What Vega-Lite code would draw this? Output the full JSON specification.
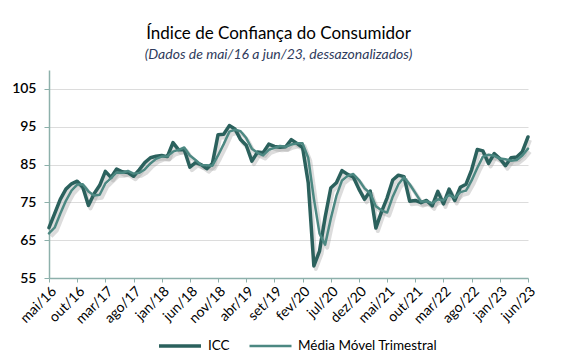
{
  "$schema": "https://vega.github.io/schema/vega-lite/v6.json",
  "width": 479,
  "height": 208,
  "autosize": {"type": "none"},
  "padding": {"left": 49, "top": 70, "right": 59, "bottom": 82},
  "background": "white",
  "config": {"view": {"stroke": null}, "font": "Lato"},
  "title": {
    "text": "Índice de Confiança do Consumidor",
    "subtitle": "(Dados de mai/16 a jun/23, dessazonalizados)",
    "anchor": "middle",
    "dx": -10,
    "offset": 7,
    "font": "Lato",
    "fontSize": 17,
    "fontWeight": "normal",
    "color": "#000000",
    "subtitleFont": "Lato",
    "subtitleFontSize": 14,
    "subtitleFontStyle": "italic",
    "subtitleColor": "#2F3B5C",
    "subtitlePadding": 5
  },
  "data": {
    "values": [
      {"n": 0, "mes": "mai/16", "ICC": 68.3, "Média Móvel Trimestral": 66.8},
      {"n": 1, "mes": "jun/16", "ICC": 72.0, "Média Móvel Trimestral": 68.3},
      {"n": 2, "mes": "jul/16", "ICC": 75.8, "Média Móvel Trimestral": 72.0},
      {"n": 3, "mes": "ago/16", "ICC": 78.5, "Média Móvel Trimestral": 75.4},
      {"n": 4, "mes": "set/16", "ICC": 79.9, "Média Móvel Trimestral": 78.1},
      {"n": 5, "mes": "out/16", "ICC": 80.6, "Média Móvel Trimestral": 79.7},
      {"n": 6, "mes": "nov/16", "ICC": 79.0, "Média Móvel Trimestral": 79.8},
      {"n": 7, "mes": "dez/16", "ICC": 74.2, "Média Móvel Trimestral": 77.9},
      {"n": 8, "mes": "jan/17", "ICC": 77.3, "Média Móvel Trimestral": 76.8},
      {"n": 9, "mes": "fev/17", "ICC": 79.5, "Média Móvel Trimestral": 77.0},
      {"n": 10, "mes": "mar/17", "ICC": 83.2, "Média Móvel Trimestral": 80.0},
      {"n": 11, "mes": "abr/17", "ICC": 81.6, "Média Móvel Trimestral": 81.4},
      {"n": 12, "mes": "mai/17", "ICC": 83.8, "Média Móvel Trimestral": 82.9},
      {"n": 13, "mes": "jun/17", "ICC": 83.1, "Média Móvel Trimestral": 82.8},
      {"n": 14, "mes": "jul/17", "ICC": 82.9, "Média Móvel Trimestral": 83.3},
      {"n": 15, "mes": "ago/17", "ICC": 81.9, "Média Móvel Trimestral": 82.6},
      {"n": 16, "mes": "set/17", "ICC": 83.6, "Média Móvel Trimestral": 82.8},
      {"n": 17, "mes": "out/17", "ICC": 85.5, "Média Móvel Trimestral": 83.7},
      {"n": 18, "mes": "nov/17", "ICC": 86.8, "Média Móvel Trimestral": 85.3},
      {"n": 19, "mes": "dez/17", "ICC": 87.2, "Média Móvel Trimestral": 86.5},
      {"n": 20, "mes": "jan/18", "ICC": 87.4, "Média Móvel Trimestral": 87.1},
      {"n": 21, "mes": "fev/18", "ICC": 87.1, "Média Móvel Trimestral": 87.2},
      {"n": 22, "mes": "mar/18", "ICC": 90.8, "Média Móvel Trimestral": 88.4},
      {"n": 23, "mes": "abr/18", "ICC": 88.9, "Média Móvel Trimestral": 88.9},
      {"n": 24, "mes": "mai/18", "ICC": 88.9, "Média Móvel Trimestral": 89.5},
      {"n": 25, "mes": "jun/18", "ICC": 84.3, "Média Móvel Trimestral": 87.4},
      {"n": 26, "mes": "jul/18", "ICC": 85.5, "Média Móvel Trimestral": 86.2},
      {"n": 27, "mes": "ago/18", "ICC": 85.0, "Média Móvel Trimestral": 84.9},
      {"n": 28, "mes": "set/18", "ICC": 83.9, "Média Móvel Trimestral": 84.8},
      {"n": 29, "mes": "out/18", "ICC": 85.3, "Média Móvel Trimestral": 84.7},
      {"n": 30, "mes": "nov/18", "ICC": 92.9, "Média Móvel Trimestral": 87.4},
      {"n": 31, "mes": "dez/18", "ICC": 93.0, "Média Móvel Trimestral": 90.4},
      {"n": 32, "mes": "jan/19", "ICC": 95.3, "Média Móvel Trimestral": 93.7},
      {"n": 33, "mes": "fev/19", "ICC": 94.4, "Média Móvel Trimestral": 94.2},
      {"n": 34, "mes": "mar/19", "ICC": 91.6, "Média Móvel Trimestral": 93.8},
      {"n": 35, "mes": "abr/19", "ICC": 90.1, "Média Móvel Trimestral": 92.0},
      {"n": 36, "mes": "mai/19", "ICC": 85.9, "Média Móvel Trimestral": 89.2},
      {"n": 37, "mes": "jun/19", "ICC": 88.3, "Média Móvel Trimestral": 88.1},
      {"n": 38, "mes": "jul/19", "ICC": 88.1, "Média Móvel Trimestral": 87.4},
      {"n": 39, "mes": "ago/19", "ICC": 90.4, "Média Móvel Trimestral": 88.9},
      {"n": 40, "mes": "set/19", "ICC": 89.8, "Média Móvel Trimestral": 89.4},
      {"n": 41, "mes": "out/19", "ICC": 89.6, "Média Móvel Trimestral": 89.9},
      {"n": 42, "mes": "nov/19", "ICC": 89.7, "Média Móvel Trimestral": 89.7},
      {"n": 43, "mes": "dez/19", "ICC": 91.6, "Média Móvel Trimestral": 90.3},
      {"n": 44, "mes": "jan/20", "ICC": 90.6, "Média Móvel Trimestral": 90.6},
      {"n": 45, "mes": "fev/20", "ICC": 89.5, "Média Móvel Trimestral": 90.6},
      {"n": 46, "mes": "mar/20", "ICC": 80.2, "Média Móvel Trimestral": 86.8},
      {"n": 47, "mes": "abr/20", "ICC": 58.2, "Média Móvel Trimestral": 76.0},
      {"n": 48, "mes": "mai/20", "ICC": 62.1, "Média Móvel Trimestral": 66.8},
      {"n": 49, "mes": "jun/20", "ICC": 71.1, "Média Móvel Trimestral": 63.8},
      {"n": 50, "mes": "jul/20", "ICC": 78.8, "Média Móvel Trimestral": 70.7},
      {"n": 51, "mes": "ago/20", "ICC": 80.2, "Média Móvel Trimestral": 76.7},
      {"n": 52, "mes": "set/20", "ICC": 83.4, "Média Móvel Trimestral": 80.8},
      {"n": 53, "mes": "out/20", "ICC": 82.4, "Média Móvel Trimestral": 82.0},
      {"n": 54, "mes": "nov/20", "ICC": 81.7, "Média Móvel Trimestral": 82.5},
      {"n": 55, "mes": "dez/20", "ICC": 78.5, "Média Móvel Trimestral": 80.9},
      {"n": 56, "mes": "jan/21", "ICC": 75.8, "Média Móvel Trimestral": 78.7},
      {"n": 57, "mes": "fev/21", "ICC": 78.0, "Média Móvel Trimestral": 77.4},
      {"n": 58, "mes": "mar/21", "ICC": 68.2, "Média Móvel Trimestral": 74.0},
      {"n": 59, "mes": "abr/21", "ICC": 72.5, "Média Móvel Trimestral": 72.9},
      {"n": 60, "mes": "mai/21", "ICC": 76.2, "Média Móvel Trimestral": 72.3},
      {"n": 61, "mes": "jun/21", "ICC": 80.9, "Média Móvel Trimestral": 76.5},
      {"n": 62, "mes": "jul/21", "ICC": 82.2, "Média Móvel Trimestral": 79.8},
      {"n": 63, "mes": "ago/21", "ICC": 81.8, "Média Móvel Trimestral": 81.6},
      {"n": 64, "mes": "set/21", "ICC": 75.3, "Média Móvel Trimestral": 79.8},
      {"n": 65, "mes": "out/21", "ICC": 75.5, "Média Móvel Trimestral": 77.5},
      {"n": 66, "mes": "nov/21", "ICC": 74.9, "Média Móvel Trimestral": 75.2},
      {"n": 67, "mes": "dez/21", "ICC": 75.5, "Média Móvel Trimestral": 75.3},
      {"n": 68, "mes": "jan/22", "ICC": 74.1, "Média Móvel Trimestral": 74.8},
      {"n": 69, "mes": "fev/22", "ICC": 77.9, "Média Móvel Trimestral": 75.8},
      {"n": 70, "mes": "mar/22", "ICC": 74.6, "Média Móvel Trimestral": 75.5},
      {"n": 71, "mes": "abr/22", "ICC": 78.5, "Média Móvel Trimestral": 77.0},
      {"n": 72, "mes": "mai/22", "ICC": 75.5, "Média Móvel Trimestral": 76.2},
      {"n": 73, "mes": "jun/22", "ICC": 79.0, "Média Móvel Trimestral": 77.7},
      {"n": 74, "mes": "jul/22", "ICC": 79.8, "Média Móvel Trimestral": 78.1},
      {"n": 75, "mes": "ago/22", "ICC": 83.6, "Média Móvel Trimestral": 80.8},
      {"n": 76, "mes": "set/22", "ICC": 89.0, "Média Móvel Trimestral": 84.1},
      {"n": 77, "mes": "out/22", "ICC": 88.6, "Média Móvel Trimestral": 87.1},
      {"n": 78, "mes": "nov/22", "ICC": 85.3, "Média Móvel Trimestral": 87.6},
      {"n": 79, "mes": "dez/22", "ICC": 87.9, "Média Móvel Trimestral": 87.3},
      {"n": 80, "mes": "jan/23", "ICC": 86.6, "Média Móvel Trimestral": 86.6},
      {"n": 81, "mes": "fev/23", "ICC": 84.7, "Média Móvel Trimestral": 86.4},
      {"n": 82, "mes": "mar/23", "ICC": 86.8, "Média Móvel Trimestral": 86.0},
      {"n": 83, "mes": "abr/23", "ICC": 87.0, "Média Móvel Trimestral": 86.2},
      {"n": 84, "mes": "mai/23", "ICC": 88.4, "Média Móvel Trimestral": 87.4},
      {"n": 85, "mes": "jun/23", "ICC": 92.3, "Média Móvel Trimestral": 89.2}
    ]
  },
  "transform": [
    {"fold": ["ICC", "Média Móvel Trimestral"], "as": ["serie", "valor"]}
  ],
  "encoding": {
    "x": {
      "field": "n",
      "type": "quantitative",
      "scale": {"domain": [0, 85], "nice": false, "zero": false},
      "axis": {
        "title": null,
        "values": [0, 5, 10, 15, 20, 25, 30, 35, 40, 45, 50, 55, 60, 65, 70, 75, 80, 85],
        "labelExpr": "['mai/16','out/16','mar/17','ago/17','jan/18','jun/18','nov/18','abr/19','set/19','fev/20','jul/20','dez/20','mai/21','out/21','mar/22','ago/22','jan/23','jun/23'][round(datum.value/5)]",
        "labelAngle": -45,
        "labelAlign": "right",
        "labelBaseline": "top",
        "labelOverlap": false,
        "labelFlush": false,
        "labelFont": "Lato",
        "labelFontSize": 14,
        "labelColor": "#000000",
        "labelPadding": 2,
        "domainColor": "#8DB0AB",
        "domainWidth": 1.5,
        "tickColor": "#8DB0AB",
        "tickSize": 4,
        "tickWidth": 1,
        "grid": false
      }
    },
    "y": {
      "field": "valor",
      "type": "quantitative",
      "scale": {"domain": [55, 110], "nice": false, "zero": false},
      "axis": {
        "title": null,
        "values": [55, 65, 75, 85, 95, 105],
        "labelFont": "Lato",
        "labelFontSize": 14,
        "labelFontWeight": 600,
        "labelColor": "#000000",
        "labelPadding": 8,
        "domainColor": "#8DB0AB",
        "domainWidth": 1.5,
        "tickColor": "#8DB0AB",
        "tickSize": 5,
        "grid": true,
        "gridColor": "#DCDCDC",
        "gridWidth": 1
      }
    }
  },
  "layer": [
    {
      "mark": {"type": "line", "color": "#9A9A9A", "opacity": 0.35, "strokeWidth": 4, "xOffset": 2, "yOffset": 3, "strokeJoin": "round"},
      "encoding": {"detail": {"field": "serie"}}
    },
    {
      "mark": {"type": "line", "strokeJoin": "round", "strokeCap": "round"},
      "encoding": {
        "color": {
          "field": "serie",
          "type": "nominal",
          "scale": {"domain": ["ICC", "Média Móvel Trimestral"], "range": ["#2B615D", "#4C8882"]},
          "legend": {
            "title": null,
            "orient": "none",
            "direction": "horizontal",
            "legendX": 108,
            "legendY": 253,
            "symbolType": "stroke",
            "symbolSize": 1764,
            "labelFont": "Lato",
            "labelFontSize": 13.5,
            "labelColor": "#000000",
            "labelOffset": 5,
            "columnPadding": 14
          }
        },
        "strokeWidth": {
          "field": "serie",
          "type": "nominal",
          "scale": {"domain": ["ICC", "Média Móvel Trimestral"], "range": [3.5, 2.5]},
          "legend": {
            "title": null,
            "orient": "none",
            "direction": "horizontal",
            "legendX": 108,
            "legendY": 253,
            "symbolType": "stroke",
            "symbolSize": 1764,
            "labelFont": "Lato",
            "labelFontSize": 13.5,
            "labelColor": "#000000",
            "labelOffset": 5,
            "columnPadding": 14
          }
        }
      }
    }
  ]
}
